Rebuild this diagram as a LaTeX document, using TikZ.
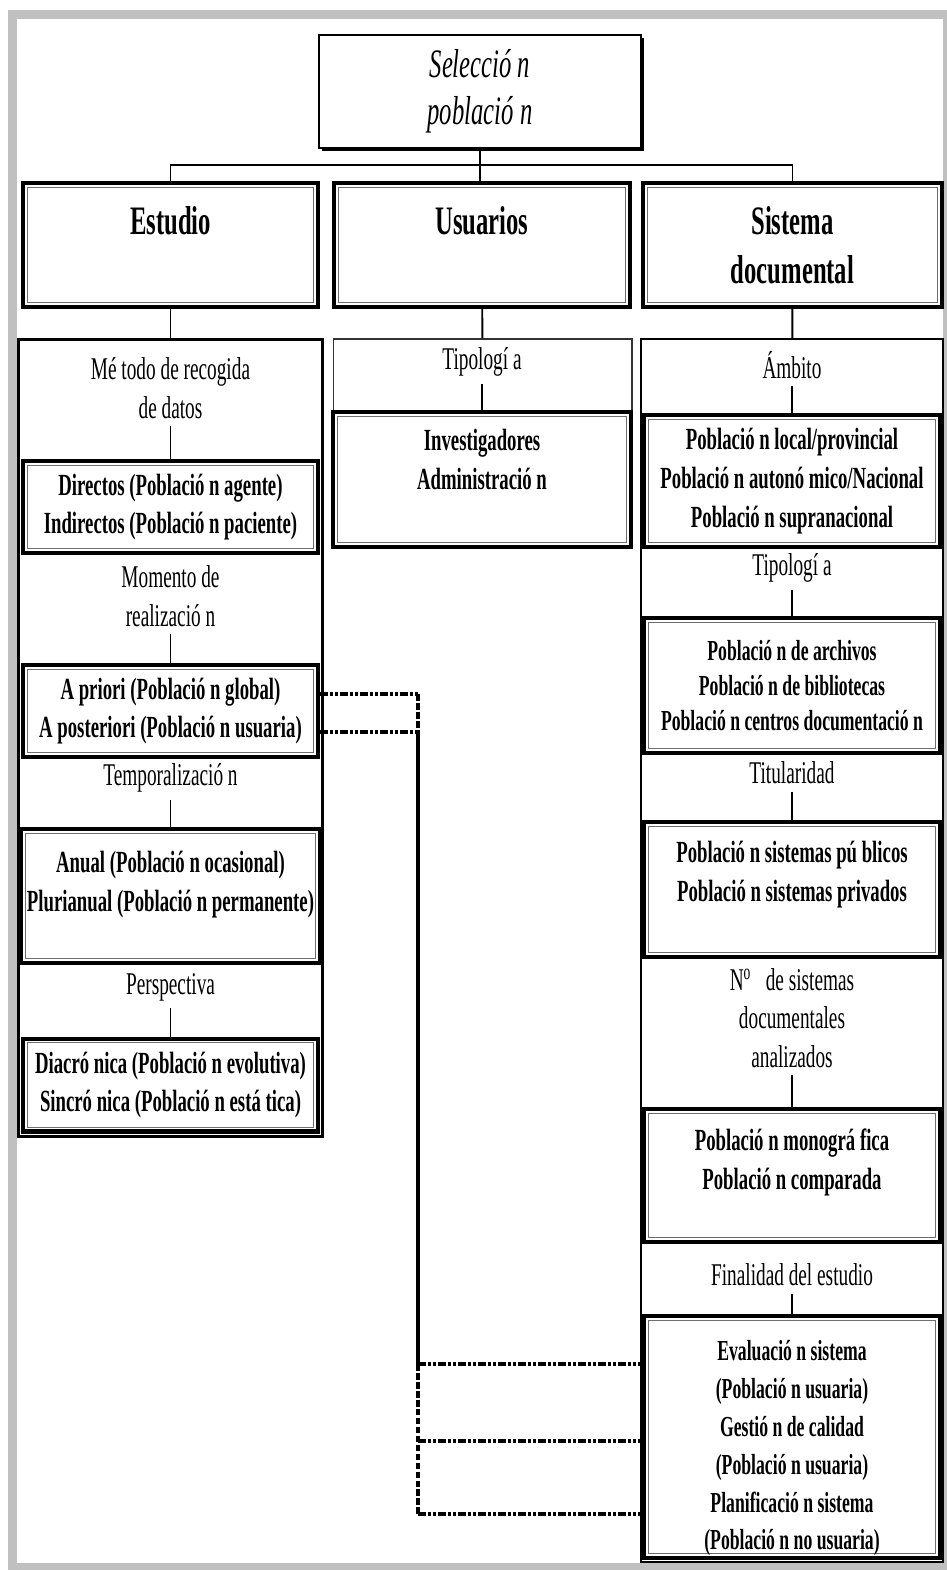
\documentclass[tikz,border=0pt]{standalone}
\usepackage{fontspec}
\setmainfont{Liberation Serif}[FakeStretch=0.61]
\usepackage{tikz}
\usetikzlibrary{calc, shadows}
\definecolor{FrameGray}{HTML}{C0C0C0}
\definecolor{InnerGray}{HTML}{6E6E6E}
\tikzset{
  dblbox/.style={draw, line width=2.3pt, fill=white, align=center,
    path picture={\draw[InnerGray, line width=0.5pt]
      ([shift={(2.4pt,2.4pt)}]path picture bounding box.south west) rectangle
      ([shift={(-2.4pt,-2.4pt)}]path picture bounding box.north east);}},
  hdr/.style={dblbox, minimum height=2.48cm, font=\fontsize{23}{28}\selectfont\bfseries},
  ibox/.style={dblbox, font=\fontsize{17.5}{22}\selectfont\bfseries},
  conn/.style={line width=1.1pt},
  linkdd/.style={line width=2.3pt, dash pattern=on 4.5pt off 1.1pt on 1.8pt off 1.1pt on 1.8pt off 1.1pt},
  linkd/.style={line width=2.3pt, dash pattern=on 3.8pt off 1.3pt}
}
\newcommand{\padlow}[1]{\rule[-#1]{0pt}{#1}}

\begin{document}
\begin{tikzpicture}[x=0.02cm, y=-0.02cm,
  selbox/.style={draw, line width=0.7pt, fill=white, align=center, minimum width=6.44cm, minimum height=2.26cm,
    font=\fontsize{23}{27}\selectfont\itshape, drop shadow={shadow xshift=1.6pt, shadow yshift=-1.6pt, fill=black, opacity=1}},
  colbox/.style={draw, fill=white, inner sep=0pt},
  lab/.style={align=center, inner sep=4pt, font=\fontsize{18}{22}\selectfont}
]
\useasboundingbox (0,0) rectangle (947,1570);
\draw[draw=FrameGray, line width=0.18cm] (12.5,14) rectangle (947.5,1567);

\node[selbox] (sel) at (480,91.5) {Selecció n\\població n};
\node[hdr, minimum width=5.9cm] (est) at (170.5,245) {Estudio\padlow{1cm}};
\node[hdr, minimum width=5.92cm] (usu) at (482,245) {Usuarios\padlow{1cm}};
\node[hdr, minimum width=5.98cm] (sis) at (792.5,245) {Sistema\\documental};

\node[colbox, line width=1.7pt, minimum width=6.1cm, minimum height=15.96cm] (colE) at (170.5,738) {};
\node[colbox, draw=black!80, line width=0.6pt, minimum width=5.98cm, minimum height=1.46cm] (colU) at (482.5,375.5) {};
\node[colbox, line width=1.1pt, minimum width=6.04cm, minimum height=24.46cm] (colS) at (792,950.5) {};

\node[lab] (metodo) at (170.5,388) {Mé todo de recogida\\de datos};
\node[ibox, minimum width=5.9cm, minimum height=1.84cm] (dir) at (170.5,507) {Directos (Població n agente)\\Indirectos (Població n paciente)};
\node[lab] (momento) at (170.5,596) {Momento de\\realizació n};
\node[ibox, minimum width=5.9cm, minimum height=1.84cm] (pri) at (170.5,711) {A priori (Població n global)\\A posteriori (Població n usuaria)};
\node[lab] (temp) at (170.5,778) {Temporalizació n};
\node[ibox, minimum width=5.9cm, minimum height=2.68cm] (anu) at (170.5,896) {Anual (Població n ocasional)\\Plurianual (Població n permanente)\padlow{0.6cm}};
\node[lab] (persp) at (170.5,987) {Perspectiva};
\node[ibox, minimum width=5.9cm, minimum height=1.86cm] (dia) at (170.5,1085) {Diacró nica (Població n evolutiva)\\Sincró nica (Població n está tica)};

\node[lab] (tipoU) at (482,362) {Tipologí a};
\node[ibox, minimum width=5.96cm, minimum height=2.7cm] (inv) at (482,479.5) {Investigadores\\Administració n\padlow{0.8cm}};

\node[lab] (ambito) at (792,365) {Ámbito};
\node[ibox, minimum width=5.92cm, minimum height=2.64cm] (loc) at (792,481) {Població n local/provincial\\Població n autonó mico/Nacional\\Població n supranacional};
\node[lab] (tipoS) at (792,568) {Tipologí a};
\node[ibox, minimum width=5.92cm, minimum height=2.7cm, font=\fontsize{16.5}{20}\selectfont\bfseries] (arc) at (792,685.5) {Població n de archivos\\Població n de bibliotecas\\Població n centros documentació n};
\node[lab] (titul) at (792,773) {Titularidad};
\node[ibox, minimum width=5.92cm, minimum height=2.7cm] (pub) at (792,889.5) {Població n sistemas pú blicos\\Població n sistemas privados\padlow{0.74cm}};
\node[lab] (numero) at (792,1018) {N\textsuperscript{o}\ \ \ de sistemas\\documentales\\analizados};
\node[ibox, minimum width=5.92cm, minimum height=2.66cm] (mon) at (792,1175.5) {Població n monográ fica\\Població n comparada\padlow{0.66cm}};
\node[lab] (final) at (792,1275) {Finalidad del estudio};
\node[ibox, minimum width=5.92cm, minimum height=4.84cm, inner ysep=0pt, font=\fontsize{16.5}{21.5}\selectfont\bfseries] (eva) at (792,1437) {\rule{0pt}{0.86cm}Evaluació n sistema\\(Població n usuaria)\\Gestió n de calidad\\(Població n usuaria)\\Planificació n sistema\\(Població n no usuaria)};

\draw[conn] (sel.south) -- (sel.south |- usu.north);
\draw[conn] (est.north) |- ($(sel.south)!0.5!(usu.north)$) -| (sis.north);
\draw[conn] (est) -- (colE);
\draw[conn] (usu) -- (colU);
\draw[conn] (sis) -- (colS);

\draw[conn] (metodo) -- (dir);
\draw[conn] (momento) -- (pri);
\draw[conn] (temp) -- (anu);
\draw[conn] (persp) -- (dia);
\draw[conn] (tipoU) -- (inv);
\draw[conn] (ambito) -- (loc);
\draw[conn] (tipoS) -- (arc);
\draw[conn] (titul) -- (pub);
\draw[conn] (numero) -- (mon);
\draw[conn] (final) -- (eva);

\coordinate (jA) at (418,694);
\coordinate (jB) at (418,732);
\coordinate (jC) at (418,1364);
\coordinate (jD) at (418,1441);
\coordinate (jE) at (418,1514);
\draw[linkdd] (pri.east |- jA) -- (jA);
\draw[linkdd] (pri.east |- jB) -- (jB);
\draw[linkd] (jA) -- (jB);
\draw[line width=2.3pt] (jB) -- (jC);
\draw[linkd] (jC) -- (jE);
\draw[linkdd] (jC) -- (eva.west |- jC);
\draw[linkdd] (jD) -- (eva.west |- jD);
\draw[linkdd] (jE) -- (eva.west |- jE);
\end{tikzpicture}
\end{document}
